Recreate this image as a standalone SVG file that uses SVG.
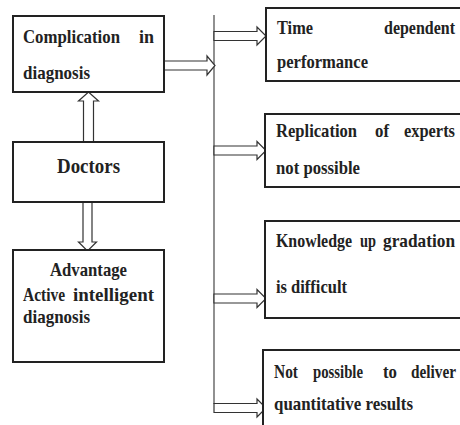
<svg xmlns="http://www.w3.org/2000/svg" width="460" height="425" viewBox="0 0 460 425">
<style>
.box{fill:#fff;stroke:#222;stroke-width:2}
.arr{fill:#fff;stroke:#333;stroke-width:1.2;stroke-linejoin:miter}
</style>
<rect width="460" height="425" fill="#fff"/>
<g id="connectors">
<line x1="214" y1="15" x2="214" y2="404" stroke="#555" stroke-width="1.3"/>
<polygon class="arr" points="164,61 207,61 207,56 215,65.5 207,75 207,70 164,70"/>
<polygon class="arr" points="214,31.5 257,31.5 257,27 266,36 257,45 257,40.5 214,40.5"/>
<polygon class="arr" points="214,146 257,146 257,141.5 266,150.5 257,159.5 257,155 214,155"/>
<polygon class="arr" points="214,294 257,294 257,289.5 266,298.5 257,307.5 257,303 214,303"/>
<polygon class="arr" points="214,403.5 257,403.5 257,399 266,408 257,417 257,412.5 214,412.5"/>
<polygon class="arr" points="83.5,142 83.5,101 78.5,101 88.5,92 98.5,101 93.5,101 93.5,142"/>
<polygon class="arr" points="83,202 83,242 78.5,242 87.5,251 96.5,242 92,242 92,202"/>
</g>
<g id="complication" font-family="Liberation Serif, Times New Roman, serif" font-weight="bold" font-size="19" fill="#222">
<rect class="box" x="13" y="16" width="151" height="76"/>
<text x="23" y="43" textLength="97" lengthAdjust="spacingAndGlyphs">Complication</text>
<text x="139" y="43" textLength="15" lengthAdjust="spacingAndGlyphs">in</text>
<text x="23" y="79" textLength="67" lengthAdjust="spacingAndGlyphs">diagnosis</text>
</g>
<g id="doctors" font-family="Liberation Serif, Times New Roman, serif" font-weight="bold" font-size="21" fill="#222">
<rect class="box" x="13" y="142" width="151" height="60"/>
<text x="57" y="173" textLength="63" lengthAdjust="spacingAndGlyphs">Doctors</text>
</g>
<g id="advantage" font-family="Liberation Serif, Times New Roman, serif" font-weight="bold" font-size="19" fill="#222">
<rect class="box" x="13" y="250" width="151" height="112"/>
<text x="50" y="276" textLength="77" lengthAdjust="spacingAndGlyphs">Advantage</text>
<text x="23" y="301" textLength="42" lengthAdjust="spacingAndGlyphs">Active</text>
<text x="73" y="301" textLength="81" lengthAdjust="spacingAndGlyphs">intelligent</text>
<text x="23" y="323" textLength="67" lengthAdjust="spacingAndGlyphs">diagnosis</text>
</g>
<g id="time" font-family="Liberation Serif, Times New Roman, serif" font-weight="bold" font-size="19" fill="#222">
<rect class="box" x="266" y="8" width="210" height="73"/>
<text x="277" y="34" textLength="36" lengthAdjust="spacingAndGlyphs">Time</text>
<text x="384" y="34" textLength="71" lengthAdjust="spacingAndGlyphs">dependent</text>
<text x="277" y="68" textLength="91" lengthAdjust="spacingAndGlyphs">performance</text>
</g>
<g id="replication" font-family="Liberation Serif, Times New Roman, serif" font-weight="bold" font-size="19" fill="#222">
<rect class="box" x="265" y="114" width="210" height="73"/>
<text x="276" y="137" textLength="81" lengthAdjust="spacingAndGlyphs">Replication</text>
<text x="375" y="137" textLength="14" lengthAdjust="spacingAndGlyphs">of</text>
<text x="404" y="137" textLength="51" lengthAdjust="spacingAndGlyphs">experts</text>
<text x="276" y="174" textLength="84" lengthAdjust="spacingAndGlyphs">not possible</text>
</g>
<g id="knowledge" font-family="Liberation Serif, Times New Roman, serif" font-weight="bold" font-size="19" fill="#222">
<rect class="box" x="265" y="221" width="210" height="97"/>
<text x="276" y="247" textLength="76" lengthAdjust="spacingAndGlyphs">Knowledge</text>
<text x="360" y="247" textLength="16" lengthAdjust="spacingAndGlyphs">up</text>
<text x="383" y="247" textLength="72" lengthAdjust="spacingAndGlyphs">gradation</text>
<text x="276" y="293" textLength="71" lengthAdjust="spacingAndGlyphs">is difficult</text>
</g>
<g id="deliver" font-family="Liberation Serif, Times New Roman, serif" font-weight="bold" font-size="19" fill="#222">
<rect class="box" x="263" y="350" width="212" height="85"/>
<text x="274" y="378" textLength="24" lengthAdjust="spacingAndGlyphs">Not</text>
<text x="313" y="378" textLength="50" lengthAdjust="spacingAndGlyphs">possible</text>
<text x="383" y="378" textLength="14" lengthAdjust="spacingAndGlyphs">to</text>
<text x="411" y="378" textLength="45" lengthAdjust="spacingAndGlyphs">deliver</text>
<text x="274" y="410" textLength="139" lengthAdjust="spacingAndGlyphs">quantitative results</text>
</g>
</svg>
